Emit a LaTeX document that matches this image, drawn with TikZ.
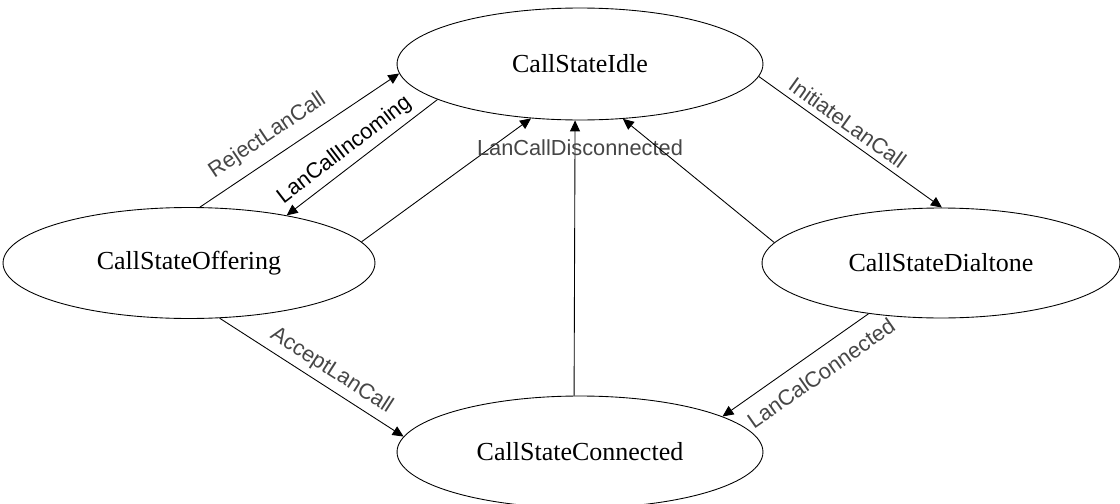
\documentclass[tikz,border=0pt]{standalone}
\usepackage{fontspec}
\setmainfont{Liberation Serif}
\setsansfont{Liberation Sans}
\usetikzlibrary{shapes.geometric, arrows.meta}
\definecolor{cLabel}{RGB}{70,70,70}
\tikzset{
	state/.style={ellipse, draw=black, line width=0.5pt, minimum width=7.32cm, minimum height=2.24cm, inner sep=0pt, font=\fontsize{14.8}{17}\selectfont},
	trans/.style={-{Triangle[length=2.2mm, width=2mm]}, line width=0.5pt},
	lbl/.style={font=\sffamily\fontsize{12.4}{15}\selectfont, text=cLabel},
}
\begin{document}
\begin{tikzpicture}[x=0.02cm, y=-0.02cm]
	\useasboundingbox (0,0) rectangle (1120,504);
	\node[state] (idle) at (580,64) {CallStateIdle};
	\node[state, minimum width=7.44cm, minimum height=2.22cm] (off) at (189,263) {CallStateOffering};
	\node[state, minimum width=7.16cm, minimum height=2.2cm] (dial) at (941,263) {CallStateDialtone};
	\node[state] (conn) at (580,452) {CallStateConnected};
	% transitions
	\draw[trans] (off.79) -- node[lbl, sloped, above=3pt, pos=0.40] {RejectLanCall} (idle.183);
	\draw[trans] (idle.194) -- node[lbl, sloped, above, pos=0.55, text=black] {LanCallIncoming} (off.26);
	\draw[trans] (off.7) -- (idle.228);
	\draw[trans] (conn.96) -- node[lbl, pos=0.9, xshift=0.1cm] {LanCallDisconnected} (idle.265);
	\draw[trans] (dial.173) -- (idle.308);
	\draw[trans] (idle.356) -- node[lbl, sloped, above, pos=0.44] {InitiateLanCall} (dial.89);
	\draw[trans] (off.299) -- node[lbl, sloped, above, pos=0.56] {AcceptLanCall} (conn.175);
	\draw[trans] (dial.215) -- node[lbl, sloped, below=4pt, pos=0.41] {LanCalConnected} (conn.14);
\end{tikzpicture}
\end{document}
